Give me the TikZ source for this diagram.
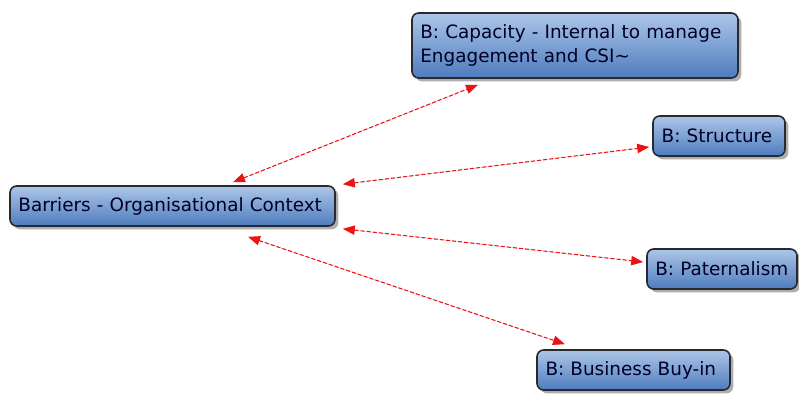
\documentclass[tikz,border=0pt]{standalone}
\usepackage{fontspec}
\setmainfont{DejaVu Sans}
\usetikzlibrary{arrows.meta, calc, shadows}

\definecolor{boxtop}{RGB}{172,198,232}
\definecolor{boxbot}{RGB}{78,124,190}
\definecolor{boxline}{RGB}{40,40,45}
\definecolor{linkred}{RGB}{235,20,20}

\begin{document}
\begin{tikzpicture}[
  x=0.75pt, y=-0.75pt,
  concept/.style={rectangle, rounded corners=5pt, draw=boxline, line width=1.2pt,
                  top color=boxtop, bottom color=boxbot,
                  drop shadow={shadow xshift=2.5pt, shadow yshift=-2.5pt, opacity=0.45, fill=black!70},
                  font=\fontsize{13.8}{18}\selectfont, text=black!85!blue,
                  align=left, inner xsep=6pt, inner ysep=0pt},
  link/.style={{Triangle[length=9pt,width=7pt]}-{Triangle[length=9pt,width=7pt]},
               draw=linkred, fill=linkred, line width=0.8pt, dash pattern=on 3pt off 1.6pt}
]
  \useasboundingbox (0,0) rectangle (799,394);

  % concept boxes
  \node[concept, minimum width=243.75pt, minimum height=30pt, text width=231pt] (ctx)
    at (172.5,206) {Barriers - Organisational Context};
  \node[concept, minimum width=244.5pt, minimum height=48.75pt, text width=232pt] (cap)
    at (575,45.5) {B: Capacity - Internal to manage\\Engagement and CSI\textasciitilde};
  \node[concept, minimum width=99pt, minimum height=30pt, text width=86pt] (str)
    at (719,136) {B: Structure};
  \node[concept, minimum width=112.5pt, minimum height=30pt, text width=100pt] (pat)
    at (722,269) {B: Paternalism};
  \node[concept, minimum width=144.75pt, minimum height=30pt, text width=132pt] (buy)
    at (633.5,370) {B: Business Buy-in};

  % two-way links from the context box
  \draw[link] ($(ctx.north)+(60.5,-3)$) -- ($(cap.south)+(-97,6)$);
  \draw[link] ($(ctx.north east)+(7,-1)$) -- ($(str.west)+(-3,11)$);
  \draw[link] ($(ctx.south east)+(7,2)$) -- ($(pat.west)+(-3,-7)$);
  \draw[link] ($(ctx.south)+(75.5,10)$) -- ($(buy.north)+(-68.5,-5)$);
\end{tikzpicture}
\end{document}
